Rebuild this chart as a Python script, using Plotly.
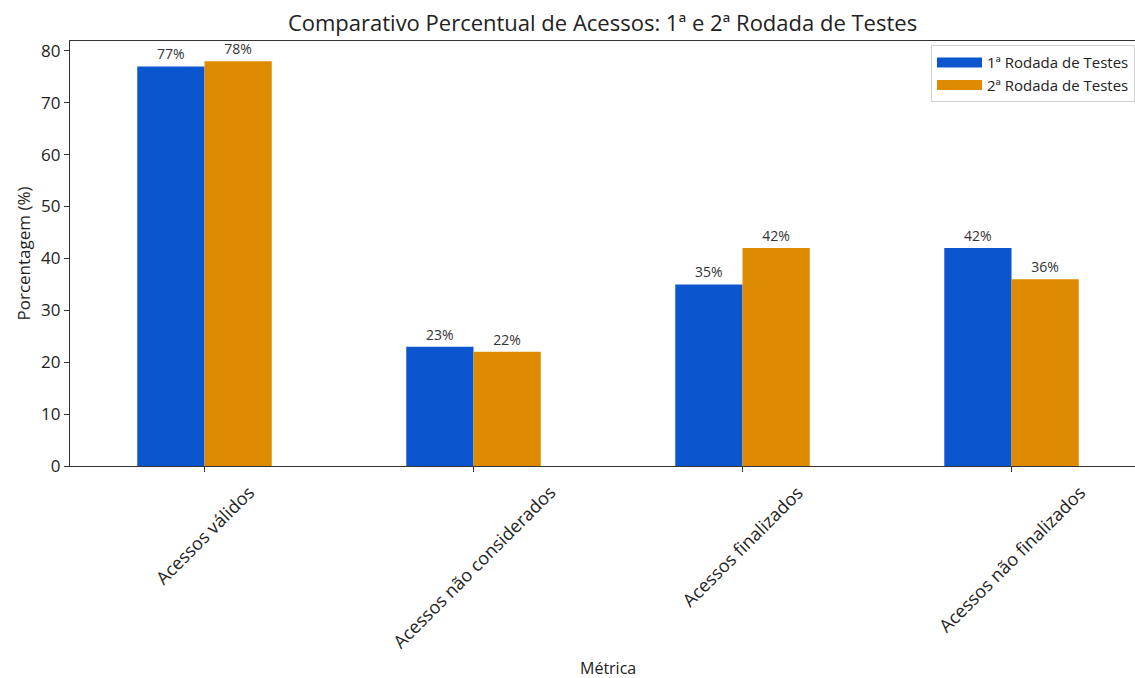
import plotly.graph_objects as go

# Métricas e percentuais por rodada de testes
categorias = ["Acessos válidos", "Acessos não considerados",
              "Acessos finalizados", "Acessos não finalizados"]
rodada_1 = [77, 23, 35, 42]
rodada_2 = [78, 22, 42, 36]
nomes_series = ["1ª Rodada de Testes", "2ª Rodada de Testes"]
cores = ["#0b55cf", "#df8b02"]
y_ticks = [0, 10, 20, 30, 40, 50, 60, 70, 80]

FONTE = "'Open Sans', Roboto, sans-serif"
TEXTO = "#222222"

fig = go.Figure()
for k, (nome, valores, cor) in enumerate(zip(nomes_series, [rodada_1, rodada_2], cores)):
    fig.add_trace(go.Bar(
        x=list(range(len(categorias))),
        y=valores,
        name=nome,
        showlegend=False,
        marker=dict(color=cor, line=dict(width=0)),
        text=[f"{v}%" for v in valores],
        textposition="outside",
        cliponaxis=False,
        textfont=dict(size=14, color="#333333", family=FONTE),
        width=0.25,
        offset=-0.25 if k == 0 else 0.0,
    ))
    # entrada da legenda com amostra retangular
    fig.add_trace(go.Scatter(
        x=[None], y=[None], mode="lines", name=nome,
        line=dict(color=cor, width=11), showlegend=True,
    ))

# Rótulos das categorias, inclinados e centralizados sob cada marca
for i, cat in enumerate(categorias):
    fig.add_annotation(
        x=i, xref="x", y=0, yref="paper", yshift=-12,
        text=cat, textangle=-45, showarrow=False,
        xanchor="center", yanchor="top",
        font=dict(size=18, color=TEXTO, family=FONTE),
    )

# Título do eixo x
fig.add_annotation(
    x=0.5 * (-0.5 + 3.5), xref="x", y=0, yref="paper", yshift=-202,
    text="Métrica", showarrow=False, xanchor="center", yanchor="middle",
    font=dict(size=16, color=TEXTO, family=FONTE),
)

fig.update_layout(
    width=1135, height=678,
    margin=dict(l=70, r=0, t=41, b=212),
    paper_bgcolor="white", plot_bgcolor="white",
    barmode="overlay",
    title=dict(text="Comparativo Percentual de Acessos: 1ª e 2ª Rodada de Testes",
               x=0.5, xref="paper", xanchor="center",
               y=1 - 23 / 678, yanchor="middle",
               font=dict(size=22, color=TEXTO, family=FONTE)),
    font=dict(family=FONTE, color=TEXTO),
    legend=dict(x=1, xanchor="right", y=0.99, yanchor="top",
                bgcolor="white", bordercolor="#d0d0d0", borderwidth=1,
                font=dict(size=15, color=TEXTO, family=FONTE),
                itemwidth=45, tracegroupgap=2),
    showlegend=True,
)

fig.update_xaxes(
    range=[-0.5, 3.459], tickvals=list(range(len(categorias))),
    ticktext=[""] * len(categorias),
    showgrid=False, zeroline=False,
    showline=True, linecolor="#333333", linewidth=1.2, mirror=True,
    ticks="outside", ticklen=5, tickcolor="#333333",
)
fig.update_yaxes(
    range=[0, 81.9], tickvals=y_ticks,
    showgrid=False, zeroline=False,
    showline=True, linecolor="#333333", linewidth=1.2,
    ticks="outside", ticklen=5, tickcolor="#333333",
    tickfont=dict(size=17, color=TEXTO, family=FONTE),
    title=dict(text="Porcentagem (%)", standoff=6,
               font=dict(size=17, color=TEXTO, family=FONTE)),
)

fig.write_html("out.html")
